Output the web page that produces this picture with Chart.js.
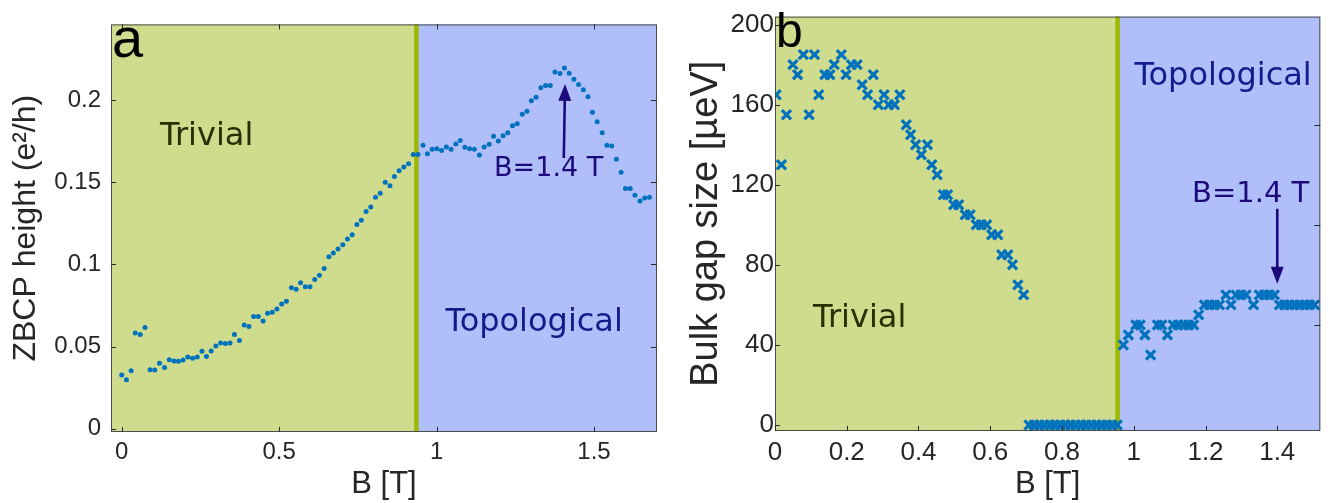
<!DOCTYPE html>
<html>
<head>
<meta charset="utf-8">
<script src="https://cdn.jsdelivr.net/npm/chart.js@4.4.1/dist/chart.umd.min.js"></script>
<style>
  html, body { margin: 0; padding: 0; background: #fff; }
  #wrap { position: relative; width: 1330px; height: 503px; }
  .pane { position: absolute; top: 0; width: 665px; height: 503px; }
</style>
</head>
<body>
<div id="wrap">
  <div class="pane" style="left:0"><canvas id="chart-a" width="665" height="503"></canvas></div>
  <div class="pane" style="left:665px"><canvas id="chart-b" width="665" height="503"></canvas></div>
</div>
<script>
// panel a: ZBCP height vs B
var bA = [0, 0.015, 0.030, 0.043, 0.059, 0.074, 0.090, 0.105, 0.120, 0.136, 0.151, 0.166, 0.180, 0.195,
  0.210, 0.225, 0.240, 0.255, 0.269, 0.284, 0.299, 0.314, 0.329, 0.344, 0.358, 0.374, 0.389, 0.404,
  0.419, 0.434, 0.449, 0.463, 0.478, 0.493, 0.508, 0.523, 0.539, 0.554, 0.568, 0.583, 0.598, 0.613,
  0.628, 0.643, 0.658, 0.672, 0.687, 0.702, 0.717, 0.732, 0.747, 0.761, 0.776, 0.791, 0.806, 0.821,
  0.837, 0.852, 0.866, 0.881, 0.896, 0.911, 0.926, 0.941, 0.957, 0.971, 0.986, 1.001, 1.016, 1.031,
  1.046, 1.061, 1.075, 1.090, 1.105, 1.120, 1.136, 1.151, 1.167, 1.181, 1.196, 1.211, 1.226, 1.241,
  1.256, 1.272, 1.287, 1.301, 1.316, 1.331, 1.346, 1.361, 1.376, 1.392, 1.406, 1.421, 1.436, 1.451,
  1.466, 1.481, 1.495, 1.510, 1.526, 1.541, 1.556, 1.571, 1.586, 1.600, 1.615, 1.630, 1.646, 1.661, 1.676];
var zbcp = [0.0327, 0.0298, 0.0353, 0.0582, 0.0573, 0.0616, 0.0359, 0.0357, 0.0398, 0.0373, 0.0420, 0.0412, 0.0410, 0.0418,
  0.0437, 0.0429, 0.0437, 0.0471, 0.0439, 0.0473, 0.0504, 0.0522, 0.0518, 0.0522, 0.0573, 0.0537, 0.0631, 0.0622,
  0.0682, 0.0682, 0.0655, 0.0702, 0.0708, 0.0729, 0.0759, 0.0775, 0.0857, 0.0849, 0.0888, 0.0863, 0.0863, 0.0908,
  0.0933, 0.0975, 0.1047, 0.1069, 0.1094, 0.1120, 0.1155, 0.1180, 0.1243, 0.1269, 0.1322, 0.1349, 0.1408, 0.1433,
  0.1500, 0.1478, 0.1535, 0.1569, 0.1592, 0.1612, 0.1669, 0.1669, 0.1725, 0.1673, 0.1700, 0.1704, 0.1692, 0.1714,
  0.1700, 0.1733, 0.1753, 0.1712, 0.1704, 0.1700, 0.1665, 0.1714, 0.1731, 0.1780, 0.1751, 0.1782, 0.1800, 0.1843,
  0.1855, 0.1914, 0.1931, 0.1996, 0.2016, 0.2075, 0.2088, 0.2088, 0.2171, 0.2161, 0.2194, 0.2163, 0.2127, 0.2094,
  0.2063, 0.2020, 0.1925, 0.1867, 0.1800, 0.1725, 0.1720, 0.1639, 0.1561, 0.1461, 0.1461, 0.1420, 0.1386, 0.1404, 0.1408];
var xTicksA = [0, 0.5, 1, 1.5];
var xLabelsA = ["0", "0.5", "1", "1.5"];
var yTicksA = [0, 0.05, 0.1, 0.15, 0.2];
var yLabelsA = ["0", "0.05", "0.1", "0.15", "0.2"];

// panel b: bulk gap vs B
var bB = [0.003, 0.018, 0.032, 0.050, 0.063, 0.079, 0.095, 0.110, 0.122, 0.139, 0.153, 0.165, 0.185, 0.198,
  0.213, 0.229, 0.243, 0.258, 0.274, 0.288, 0.304, 0.317, 0.333, 0.348, 0.366, 0.378, 0.392, 0.408,
  0.425, 0.437, 0.452, 0.469, 0.481, 0.498, 0.512, 0.530, 0.544, 0.561, 0.575, 0.590, 0.604, 0.621,
  0.632, 0.649, 0.662, 0.677, 0.693,
  0.708, 0.722, 0.737, 0.751, 0.766, 0.780, 0.795, 0.809, 0.824, 0.838, 0.853, 0.867, 0.882, 0.896,
  0.911, 0.925, 0.940, 0.954,
  0.971, 0.985, 1.006, 1.018, 1.031, 1.047, 1.066, 1.078, 1.094, 1.110, 1.124, 1.139, 1.153, 1.167,
  1.181, 1.197, 1.211, 1.225, 1.239, 1.257, 1.271, 1.285, 1.299, 1.313, 1.334, 1.350, 1.364, 1.378,
  1.392, 1.406, 1.420, 1.434, 1.448, 1.462, 1.476, 1.490, 1.504];
var gap = [165, 130, 155, 180, 175, 185, 155, 185, 165, 175, 175, 180, 185, 175,
  180, 180, 170, 165, 175, 160, 165, 160, 160, 165, 150, 145, 140, 135,
  140, 130, 125, 115, 115, 110, 110, 105, 105, 100, 100, 100, 95, 95,
  85, 85, 80, 70, 65,
  0, 0, 0, 0, 0, 0, 0, 0, 0, 0, 0, 0, 0, 0,
  0, 0, 0, 0,
  40, 45, 50, 50, 45, 35, 50, 50, 45, 50, 50, 50, 50, 50,
  55, 60, 60, 60, 60, 65, 60, 65, 65, 65, 60, 65, 65, 65,
  65, 60, 60, 60, 60, 60, 60, 60, 60];
var xTicksB = [0, 0.2, 0.4, 0.6, 0.8, 1, 1.2, 1.4];
var xLabelsB = ["0", "0.2", "0.4", "0.6", "0.8", "1", "1.2", "1.4"];
var yTicksB = [0, 40, 80, 120, 160, 200];
var yLabelsB = ["0", "40", "80", "120", "160", "200"];

var GREEN = "#cfdc8e", BLUE = "#b0befa", EDGE = "#9cb800";
var DOT = "#0072bd", INK = "#262626", NAVY = "#121d8c", OLIVE = "#283000", ARROW = "#1c0a7a";

function toPoints(xs, ys) {
  return xs.map(function(x, i) { return { x: x, y: ys[i] }; });
}

function arrow(ctx, x1, y1, x2, y2) {
  var ang = Math.atan2(y2 - y1, x2 - x1), hl = 17, hw = 6.5;
  ctx.save();
  ctx.strokeStyle = ARROW; ctx.fillStyle = ARROW; ctx.lineWidth = 2.6;
  ctx.beginPath();
  ctx.moveTo(x1, y1);
  ctx.lineTo(x2 - Math.cos(ang) * hl * 0.8, y2 - Math.sin(ang) * hl * 0.8);
  ctx.stroke();
  ctx.beginPath();
  ctx.moveTo(x2, y2);
  ctx.lineTo(x2 - Math.cos(ang) * hl - Math.sin(ang) * hw, y2 - Math.sin(ang) * hl + Math.cos(ang) * hw);
  ctx.lineTo(x2 - Math.cos(ang) * hl + Math.sin(ang) * hw, y2 - Math.sin(ang) * hl - Math.cos(ang) * hw);
  ctx.closePath();
  ctx.fill();
  ctx.restore();
}

function text(ctx, s, x, y, font, color, align, base) {
  ctx.save();
  ctx.font = font; ctx.fillStyle = color;
  ctx.textAlign = align || "center"; ctx.textBaseline = base || "middle";
  ctx.fillText(s, x, y);
  ctx.restore();
}

// background regions, boundary line, frame, inner ticks, labels
var phasePlugin = {
  id: "phases",
  beforeDatasetsDraw: function(chart) {
    var o = chart.options.plugins.phases, a = chart.chartArea, ctx = chart.ctx;
    var xb = chart.scales.x.getPixelForValue(o.boundary);
    ctx.save();
    ctx.fillStyle = GREEN; ctx.fillRect(a.left, a.top, xb - a.left, a.bottom - a.top);
    ctx.fillStyle = BLUE; ctx.fillRect(xb, a.top, a.right - xb, a.bottom - a.top);
    ctx.strokeStyle = EDGE; ctx.lineWidth = 4.5;
    ctx.beginPath(); ctx.moveTo(xb, a.top); ctx.lineTo(xb, a.bottom); ctx.stroke();
    ctx.restore();
  },
  afterDatasetsDraw: function(chart) {
    var o = chart.options.plugins.phases, a = chart.chartArea, ctx = chart.ctx;
    var xs = chart.scales.x, ys = chart.scales.y;
    ctx.save();
    ctx.strokeStyle = "#4a4a4a"; ctx.lineWidth = 1;
    ctx.strokeRect(a.left + 0.5, a.top + 0.5, a.right - a.left - 1, a.bottom - a.top - 1);
    ctx.strokeStyle = INK; ctx.lineWidth = 1;
    o.xTicks.forEach(function(v) {
      var p = Math.round(xs.getPixelForValue(v)) + 0.5;
      ctx.beginPath(); ctx.moveTo(p, a.bottom); ctx.lineTo(p, a.bottom - 5); ctx.stroke();
      if (o.topTicks) { ctx.beginPath(); ctx.moveTo(p, a.top); ctx.lineTo(p, a.top + 5); ctx.stroke(); }
    });
    o.yTicks.forEach(function(v) {
      var p = Math.round(ys.getPixelForValue(v)) + 0.5;
      ctx.beginPath(); ctx.moveTo(a.left, p); ctx.lineTo(a.left + 5, p); ctx.stroke();
    });
    o.rightTicks.forEach(function(v) {
      var p = Math.round(ys.getPixelForValue(v)) + 0.5;
      ctx.beginPath(); ctx.moveTo(a.right, p); ctx.lineTo(a.right - 6, p); ctx.stroke();
    });
    ctx.restore();
    o.labels.forEach(function(l) {
      text(ctx, l.s, xs.getPixelForValue(l.x), ys.getPixelForValue(l.y), l.font, l.color);
    });
    arrow(ctx, xs.getPixelForValue(o.arrow[0]), ys.getPixelForValue(o.arrow[1]),
      xs.getPixelForValue(o.arrow[2]), ys.getPixelForValue(o.arrow[3]));
    text(ctx, o.letter, a.left + o.letterDx, a.top + o.letterDy, o.letterFont, "#000", "left", "alphabetic");
  }
};

function makePanel(id, pts, ds, sc, ph) {
  var ctx = document.getElementById(id).getContext("2d");
  return new Chart(ctx, {
    type: "scatter",
    plugins: [phasePlugin],
    data: { datasets: [Object.assign({ data: pts }, ds)] },
    options: {
      responsive: false,
      animation: false,
      layout: { padding: sc.pad },
      plugins: { legend: { display: false }, tooltip: { enabled: false }, phases: ph },
      scales: {
        x: {
          type: "linear", min: sc.xMin, max: sc.xMax,
          grid: { display: false, drawTicks: false }, border: { display: false },
          afterBuildTicks: function(s) { s.ticks = sc.xTicks.map(function(v) { return { value: v }; }); },
          afterFit: function(s) { s.height = sc.xH; },
          ticks: {
            autoSkip: false, maxRotation: 0, padding: 6, color: INK,
            font: { family: "'Liberation Sans'", size: sc.tickSize },
            callback: function(v, i) { return sc.xLabels[i]; }
          },
          title: { display: true, text: "B [T]", color: INK, padding: { top: 0, bottom: 0 },
            font: { family: "'Liberation Sans'", size: 31 } }
        },
        y: {
          type: "linear", min: sc.yMin, max: sc.yMax,
          grid: { display: false, drawTicks: false }, border: { display: false },
          afterBuildTicks: function(s) { s.ticks = sc.yTicks.map(function(v) { return { value: v }; }); },
          afterFit: function(s) { s.width = sc.yW; },
          ticks: {
            autoSkip: false, padding: sc.yPad, color: INK,
            font: { family: "'Liberation Sans'", size: sc.tickSize },
            callback: function(v, i) { return sc.yLabels[i]; }
          },
          title: { display: true, text: sc.yTitle, color: INK, padding: { top: sc.yTitlePad, bottom: 0 },
            font: { family: "'Liberation Sans'", size: sc.yTitleSize } }
        }
      }
    }
  });
}

makePanel("chart-a", toPoints(bA, zbcp),
  { pointStyle: "circle", pointRadius: 2.5, backgroundColor: DOT, borderWidth: 0, showLine: false },
  { pad: { top: 10, right: 8, left: 0, bottom: 0 }, xMin: -0.034, xMax: 1.70, yMin: -0.002, yMax: 0.246,
    xTicks: xTicksA, xLabels: xLabelsA, yTicks: yTicksA, yLabels: yLabelsA, xH: 71, yW: 111,
    tickSize: 24, yPad: 10, yTitle: "ZBCP height (e\u00b2/h)", yTitleSize: 32, yTitlePad: 7 },
  { boundary: 0.936, xTicks: xTicksA, yTicks: yTicksA, rightTicks: [0.05, 0.1, 0.15, 0.2], topTicks: true,
    letter: "a", letterDx: 1, letterDy: 33, letterFont: "56px 'Liberation Sans'",
    labels: [
      { s: "Trivial", x: 0.27, y: 0.1775, font: "32px 'DejaVu Sans'", color: OLIVE },
      { s: "Topological", x: 1.31, y: 0.0647, font: "32px 'DejaVu Sans'", color: NAVY },
      { s: "B=1.4 T", x: 1.356, y: 0.158, font: "27px 'DejaVu Sans'", color: ARROW }
    ],
    arrow: [1.404, 0.1647, 1.408, 0.2098] });

makePanel("chart-b", toPoints(bB, gap),
  { pointStyle: "crossRot", pointRadius: 6.5, borderColor: DOT, borderWidth: 3.2, showLine: false },
  { pad: { top: 5, right: 4, left: 0, bottom: 0 }, xMin: 0, xMax: 1.52, yMin: -3, yMax: 204,
    xTicks: xTicksB, xLabels: xLabelsB, yTicks: yTicksB, yLabels: yLabelsB, xH: 72, yW: 110,
    tickSize: 26, yPad: 1, yTitle: "Bulk gap size [\u00b5eV]", yTitleSize: 38, yTitlePad: 19 },
  { boundary: 0.955, xTicks: xTicksB, yTicks: yTicksB, rightTicks: [50, 100, 150], topTicks: false,
    letter: "b", letterDx: 1, letterDy: 30, letterFont: "48px 'Liberation Sans'",
    labels: [
      { s: "Trivial", x: 0.236, y: 53, font: "32px 'DejaVu Sans'", color: OLIVE },
      { s: "Topological", x: 1.249, y: 174, font: "32px 'DejaVu Sans'", color: NAVY },
      { s: "B=1.4 T", x: 1.326, y: 115, font: "29px 'DejaVu Sans'", color: ARROW }
    ],
    arrow: [1.4, 108, 1.4, 70.5] });
</script>
</body>
</html>
